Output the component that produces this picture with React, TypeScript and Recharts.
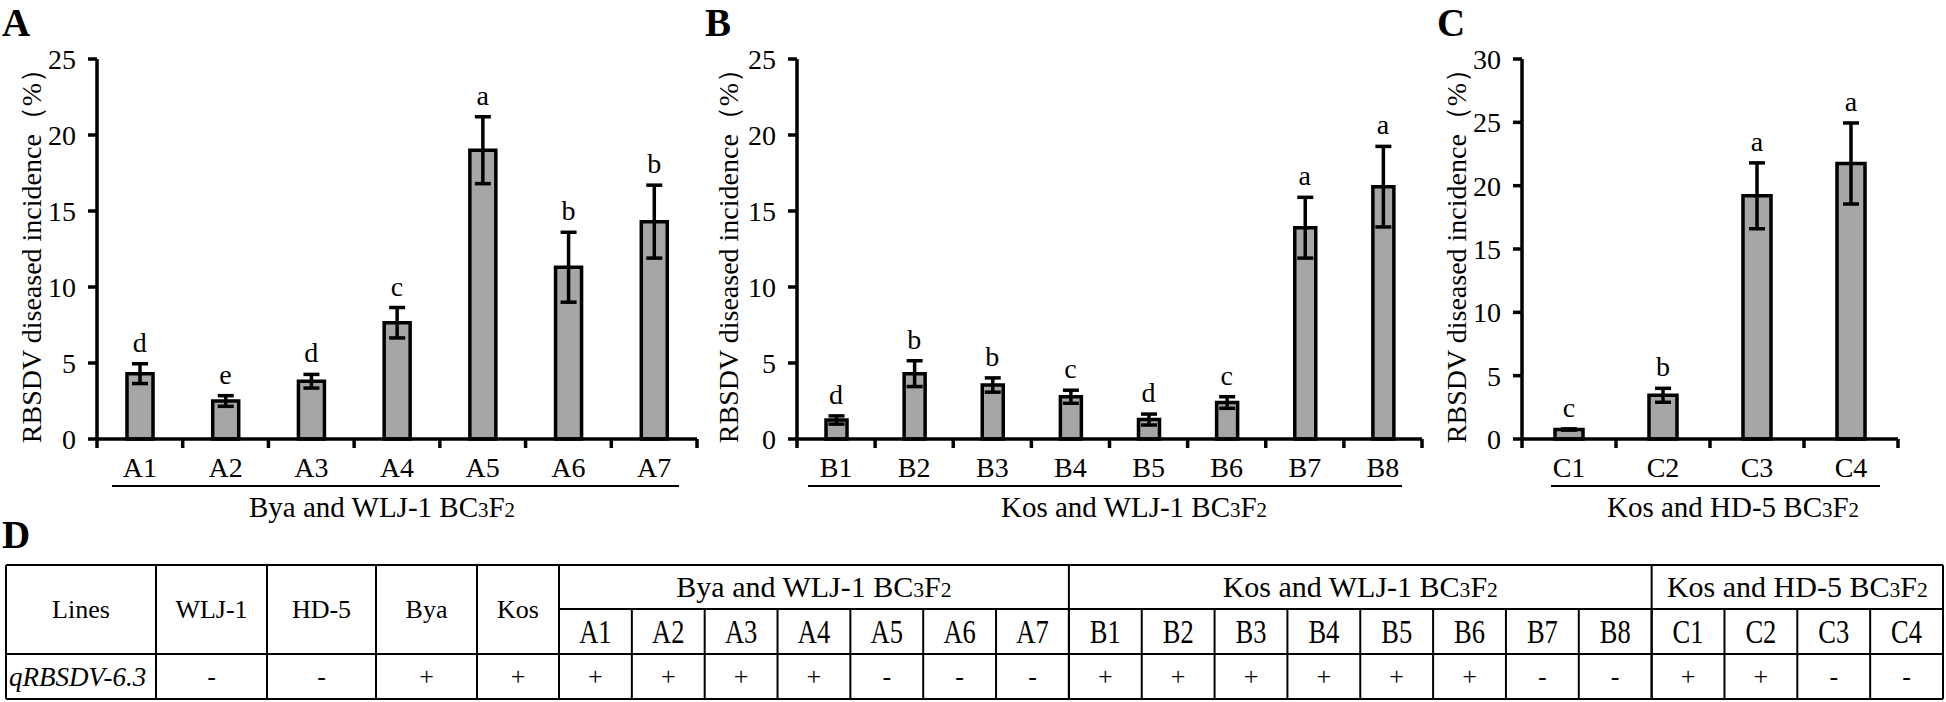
import React from 'react';
import { ComposedChart, Bar, Line, XAxis, YAxis, ErrorBar, LabelList } from 'recharts';

const FONT = '"Liberation Serif", "Times New Roman", serif';

// Panel A: Bya and WLJ-1 BC3F2
const linesA = ['A1', 'A2', 'A3', 'A4', 'A5', 'A6', 'A7'];
const incidenceA = [4.3, 2.5, 3.8, 7.65, 19.0, 11.3, 14.3];
const errorA = [0.65, 0.35, 0.45, 1.0, 2.2, 2.3, 2.4];
const lettersA = ['d', 'e', 'd', 'c', 'a', 'b', 'b'];

// Panel B: Kos and WLJ-1 BC3F2
const linesB = ['B1', 'B2', 'B3', 'B4', 'B5', 'B6', 'B7', 'B8'];
const incidenceB = [1.25, 4.3, 3.55, 2.78, 1.28, 2.4, 13.9, 16.6];
const errorB = [0.27, 0.85, 0.47, 0.43, 0.36, 0.38, 2.0, 2.65];
const lettersB = ['d', 'b', 'b', 'c', 'd', 'c', 'a', 'a'];

// Panel C: Kos and HD-5 BC3F2
const linesC = ['C1', 'C2', 'C3', 'C4'];
const incidenceC = [0.75, 3.45, 19.2, 21.75];
const errorC = [0.05, 0.55, 2.6, 3.2];
const lettersC = ['c', 'b', 'a', 'a'];

const ticks25 = [0, 5, 10, 15, 20, 25];
const ticks30 = [0, 5, 10, 15, 20, 25, 30];

// Panel D table
const parents = ['WLJ-1', 'HD-5', 'Bya', 'Kos'];
const parentMarks = ['-', '-', '+', '+'];
const marksA = ['+', '+', '+', '+', '-', '-', '-'];
const marksB = ['+', '+', '+', '+', '+', '+', '-', '-'];
const marksC = ['+', '+', '-', '-'];

const yTitle = 'RBSDV diseased incidence（%）';

const Y_AXIS_W = 97;
const RIGHT_M = 13;

const GroupName = ({ x, y, first, size }: any) => (
  <text x={x} y={y} textAnchor="middle" fontFamily={FONT} fontSize={size} fill="#000">
    {first} BC<tspan fontSize={size * 0.72}>3</tspan>F<tspan fontSize={size * 0.72}>2</tspan>
  </text>
);

// category label at band centre, tick marks at band edges
const renderTick = (props: any, half: number, count: number) => {
  const { x, y, payload, index } = props;
  return (
    <g>
      <line x1={x - half} y1={y} x2={x - half} y2={y + 9} stroke="#000" strokeWidth={3.5} />
      {index === count - 1 && <line x1={x + half} y1={y} x2={x + half} y2={y + 9} stroke="#000" strokeWidth={3.5} />}
      <text x={x} y={y + 38} textAnchor="middle" fontFamily={FONT} fontSize={28} fill="#000">
        {payload.value}
      </text>
    </g>
  );
};

const Panel = ({ left, width, names, values, errors, letters, yMax, yTicks, barSize }: any) => {
  const data = names.map((name: string, i: number) => ({
    name,
    value: values[i],
    err: errors[i],
    top: values[i] + errors[i],
    sig: letters[i],
  }));
  const half = (width - Y_AXIS_W - RIGHT_M) / names.length / 2;

  return (
    <div style={{ position: 'absolute', left, top: 0 }}>
      <ComposedChart width={width} height={500} data={data} margin={{ top: 59, right: RIGHT_M, bottom: 11, left: 0 }}>
        <XAxis
          dataKey="name"
          interval={0}
          height={50}
          tickSize={0}
          tickMargin={0}
          tickLine={false}
          axisLine={{ stroke: '#000', strokeWidth: 3.5 }}
          tick={(p: any) => renderTick(p, half, names.length)}
        />
        <YAxis
          domain={[0, yMax]}
          ticks={yTicks}
          interval={0}
          width={Y_AXIS_W}
          tickSize={9}
          tickMargin={12}
          axisLine={{ stroke: '#000', strokeWidth: 3.5 }}
          tickLine={{ stroke: '#000', strokeWidth: 3.5 }}
          tick={{ fill: '#000', fontSize: 28, fontFamily: FONT }}
        />
        <Bar dataKey="value" fill="#A6A6A6" stroke="#000" strokeWidth={3.5} barSize={barSize} isAnimationActive={false}>
          <ErrorBar dataKey="err" direction="y" width={8} stroke="#000" strokeWidth={3.5} />
        </Bar>
        <Line dataKey="top" stroke="none" dot={false} activeDot={false} isAnimationActive={false}>
          <LabelList dataKey="sig" position="top" offset={12} fill="#000" fontSize={28} fontFamily={FONT} />
        </Line>
      </ComposedChart>
    </div>
  );
};

const Table = () => {
  const top = 565, mid = 609, head = 654, bottom = 699;
  const fixedX = [6, 156, 267, 376, 477, 559];
  const right = 1943;
  const subs = [...linesA, ...linesB, ...linesC];
  const subMarks = [...marksA, ...marksB, ...marksC];
  const cellW = (right - fixedX[5]) / subs.length;
  const subX = subs.map((_, i) => fixedX[5] + i * cellW);
  const groupEdges = [fixedX[5], fixedX[5] + linesA.length * cellW, fixedX[5] + (linesA.length + linesB.length) * cellW, right];
  const groups = ['Bya and WLJ-1', 'Kos and WLJ-1', 'Kos and HD-5'];
  const sw = 2;
  return (
    <g>
      <line x1={fixedX[0]} x2={right} y1={top} y2={top} stroke="#000" strokeWidth={sw} />
      <line x1={fixedX[5]} x2={right} y1={mid} y2={mid} stroke="#000" strokeWidth={sw} />
      <line x1={fixedX[0]} x2={right} y1={head} y2={head} stroke="#000" strokeWidth={sw} />
      <line x1={fixedX[0]} x2={right} y1={bottom} y2={bottom} stroke="#000" strokeWidth={sw} />
      {fixedX.map((x) => (
        <line key={'f' + x} x1={x} x2={x} y1={top} y2={bottom} stroke="#000" strokeWidth={sw} />
      ))}
      {groupEdges.map((x, i) => (
        <line key={'g' + i} x1={x} x2={x} y1={top} y2={bottom} stroke="#000" strokeWidth={sw} />
      ))}
      {subX.map((x, i) => (
        <line key={'s' + i} x1={x} x2={x} y1={mid} y2={bottom} stroke="#000" strokeWidth={sw} />
      ))}
      <text x={(fixedX[0] + fixedX[1]) / 2} y={(top + head) / 2} textAnchor="middle" dominantBaseline="central" fontFamily={FONT} fontSize={26}>Lines</text>
      {parents.map((p, i) => (
        <g key={p}>
          <text x={(fixedX[i + 1] + fixedX[i + 2]) / 2} y={(top + head) / 2} textAnchor="middle" dominantBaseline="central" fontFamily={FONT} fontSize={26}>{p}</text>
          <text x={(fixedX[i + 1] + fixedX[i + 2]) / 2} y={(head + bottom) / 2} textAnchor="middle" dominantBaseline="central" fontFamily={FONT} fontSize={26}>{parentMarks[i]}</text>
        </g>
      ))}
      <text x={fixedX[0] + 3} y={(head + bottom) / 2} dominantBaseline="central" fontFamily={FONT} fontStyle="italic" fontSize={27}>qRBSDV-6.3</text>
      {groups.map((g, i) => (
        <GroupName key={g} x={(groupEdges[i] + groupEdges[i + 1]) / 2} y={mid - 12} first={g} size={30} />
      ))}
      {subs.map((s, i) => (
        <g key={s}>
          <text transform={`translate(${subX[i] + cellW / 2},${(mid + head) / 2}) scale(0.78,1)`} textAnchor="middle" dominantBaseline="central" fontFamily={FONT} fontSize={34}>{s}</text>
          <text x={subX[i] + cellW / 2} y={(head + bottom) / 2} textAnchor="middle" dominantBaseline="central" fontFamily={FONT} fontSize={26}>{subMarks[i]}</text>
        </g>
      ))}
    </g>
  );
};

const App = () => {
  return (
    <div style={{ position: 'absolute', left: 0, top: 0, width: 1946, height: 702, background: '#fff', overflow: 'hidden' }}>
      <Panel left={0} width={710} names={linesA} values={incidenceA} errors={errorA} letters={lettersA} yMax={25} yTicks={ticks25} barSize={26} />
      <Panel left={700} width={735} names={linesB} values={incidenceB} errors={errorB} letters={lettersB} yMax={25} yTicks={ticks25} barSize={21} />
      <Panel left={1425} width={486} names={linesC} values={incidenceC} errors={errorC} letters={lettersC} yMax={30} yTicks={ticks30} barSize={28} />
      <svg width={1946} height={702} style={{ position: 'absolute', left: 0, top: 0, pointerEvents: 'none' }}>
        <g fontFamily={FONT} fontWeight="bold" fontSize={39} fill="#000">
          <text x={2} y={36}>A</text>
          <text x={705} y={36}>B</text>
          <text x={1437} y={36}>C</text>
          <text x={2} y={548}>D</text>
        </g>
        {[31, 728, 1456].map((x) => (
          <text key={x} transform={`translate(${x},249) rotate(-90)`} textAnchor="middle" dominantBaseline="central" fontFamily={FONT} fontSize={28} fill="#000">
            {yTitle}
          </text>
        ))}
        <line x1={112} x2={679} y1={486} y2={486} stroke="#000" strokeWidth={2} />
        <line x1={808} x2={1402} y1={486} y2={486} stroke="#000" strokeWidth={2} />
        <line x1={1551} x2={1880} y1={486} y2={486} stroke="#000" strokeWidth={2} />
        <GroupName x={382} y={517} first="Bya and WLJ-1" size={29} />
        <GroupName x={1134} y={517} first="Kos and WLJ-1" size={29} />
        <GroupName x={1733} y={517} first="Kos and HD-5" size={29} />
        <Table />
      </svg>
    </div>
  );
};

export default App;
